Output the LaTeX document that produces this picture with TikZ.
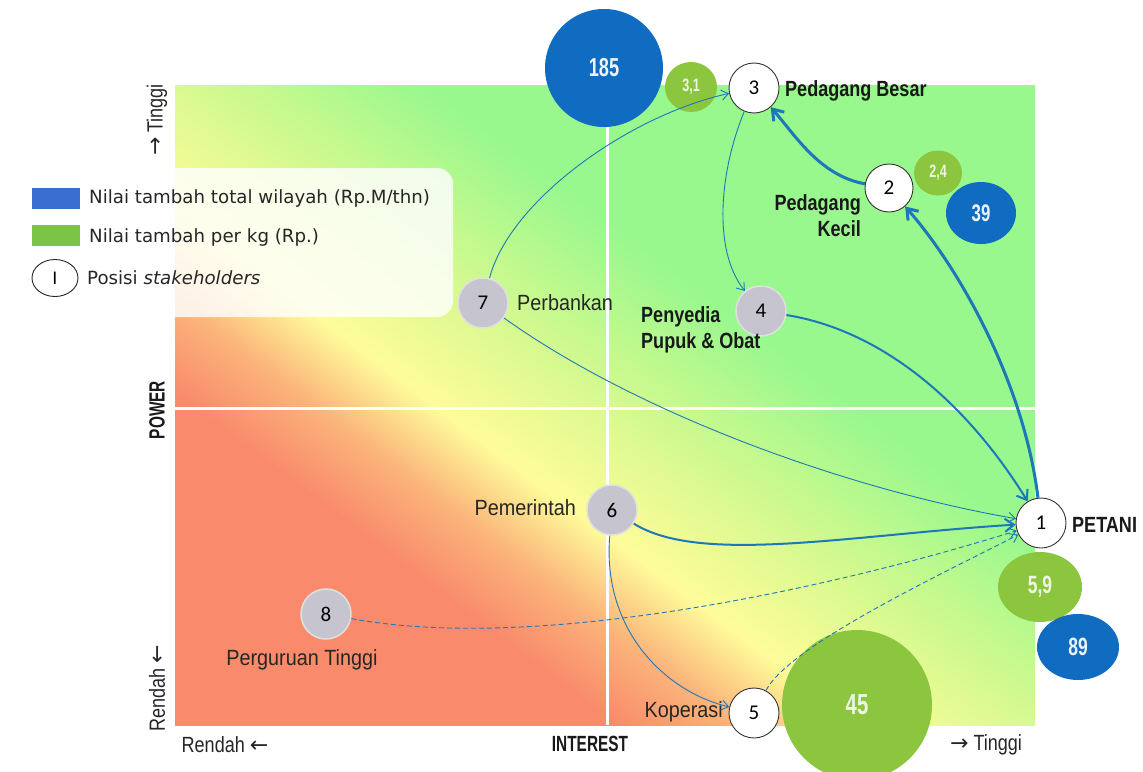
\documentclass[tikz,border=0pt]{standalone}
\usepackage{fontspec}
\setmainfont{DejaVu Sans}
\newfontfamily\narrowf[FakeStretch=0.82]{Liberation Sans}
\newfontfamily\condf[FakeStretch=0.7]{Liberation Sans}
\newfontfamily\labf[FakeStretch=0.9]{Liberation Sans}
\newfontfamily\arrowf{DejaVu Sans}
\newfontfamily\calf{Carlito}
\usetikzlibrary{arrows.meta,shapes.geometric}
\definecolor{cblue}{HTML}{0F6CC0}
\definecolor{cgreen}{HTML}{8CC63F}
\definecolor{cgray}{HTML}{C6C4CE}
\definecolor{carrow}{HTML}{1E77B8}
\definecolor{gred}{HTML}{F98A6C}
\definecolor{gorange}{HTML}{FBB47A}
\definecolor{gyellow}{HTML}{FEFC9A}
\definecolor{gyg}{HTML}{E4FA92}
\definecolor{glgreen}{HTML}{C6F98E}
\definecolor{ggreen}{HTML}{98F88E}
\definecolor{lblue}{HTML}{3B6FCF}
\definecolor{lgreen}{HTML}{7CC447}
\pgfdeclarehorizontalshading{quadshade}{100bp}{color(0bp)=(gred); color(33bp)=(gred); color(38bp)=(gorange); color(43bp)=(gyellow); color(48bp)=(gyg); color(53bp)=(glgreen); color(60bp)=(ggreen); color(100bp)=(ggreen)}
\tikzset{
  valblue/.style={ellipse, fill=cblue, inner sep=0pt, text=white!92!cblue, font=\condf\bfseries\fontsize{26}{26}\selectfont},
  valgreen/.style={ellipse, fill=cgreen, inner sep=0pt, text=white!85!cgreen, font=\condf\bfseries\fontsize{25}{25}\selectfont},
  stk/.style={circle, draw=black!80, line width=0.9pt, fill=white, minimum size=50pt, inner sep=0pt, font=\calf\fontsize{21}{21}\selectfont},
  gst/.style={circle, draw=black!12, line width=1.5pt, fill=cgray, minimum size=50pt, inner sep=0pt, font=\calf\fontsize{21}{21}\selectfont},
  lab/.style={font=\labf\fontsize{22}{22}\selectfont, text=black!85, inner sep=0pt},
  blab/.style={font=\narrowf\bfseries\fontsize{22}{22}\selectfont, text=black!90, inner sep=0pt},
  axl/.style={font=\narrowf\fontsize{22}{22}\selectfont, text=black!85, inner sep=0pt},
  axt/.style={font=\condf\bfseries\fontsize{22}{22}\selectfont, text=black!90, inner sep=0pt},
  leg/.style={font=\fontsize{18.2}{19}\selectfont, text=black!85, inner sep=0pt, anchor=west},
  con/.style={draw=carrow, line width=0.9pt, -{Straight Barb[length=7pt,width=10pt]}},
  conm/.style={draw=carrow, line width=2pt, -{Straight Barb[length=9pt,width=13pt]}},
  conb/.style={draw=carrow, line width=3pt, -{Straight Barb[length=10pt,width=14pt]}},
  cond/.style={con, dashed, dash pattern=on 5pt off 3pt},
}
\begin{document}
\begin{tikzpicture}[x=1pt,y=-1pt]
\path[use as bounding box] (0,0) rectangle (1143,771);
% background gradient
\shade[shading=quadshade, shading angle=53] (175,85) rectangle (1035,725);
\draw[white, line width=3pt] (607,85) -- (607,725);
\draw[white, line width=3pt] (175,408) -- (1035,408);
% legend
\fill[white, opacity=0.82, rounded corners=16pt] (8,168) rectangle (453,317);
\fill[lblue] (32,188) rectangle (80,209);
\fill[lgreen] (32,225) rectangle (80,246);
\node[leg] (lt1) at (89,198) {Nilai tambah total wilayah (Rp.M/thn)};
\node[leg] (lt2) at (89,237) {Nilai tambah per kg (Rp.)};
\node[ellipse, draw=black!85, line width=0.9pt, minimum width=46pt, minimum height=37pt, inner sep=0pt, font=\fontsize{17}{17}\selectfont] (lc) at (55,278) {I};
\node[leg] (lt3) at (87,278) {Posisi \textit{stakeholders}};
% axis labels
\node[axt, rotate=90] (power) at (157,410) {POWER};
\node[axl, rotate=90] (ptop) at (157,120) {{\arrowf →} Tinggi};
\node[axl, rotate=90] (pbot) at (157,688) {Rendah {\arrowf ←}};
\node[axt] (interest) at (590,744) {INTEREST};
\node[axl] (ileft) at (225,745) {Rendah {\arrowf ←}};
\node[axl] (iright) at (986,745) {{\arrowf →} Tinggi};
% value bubbles
\node[valblue, minimum width=118pt, minimum height=118pt] (v185) at (604,68) {185};
\node[valgreen, minimum width=52pt, minimum height=50pt, font=\condf\bfseries\fontsize{18}{18}\selectfont] (v31) at (691,87) {3,1};
\node[valgreen, minimum width=48pt, minimum height=45pt, font=\condf\bfseries\fontsize{18}{18}\selectfont] (v24) at (938,173) {2,4};
\node[valblue, minimum width=70pt, minimum height=62pt, font=\condf\bfseries\fontsize{24}{24}\selectfont] (v39) at (981,213) {39};
\node[valgreen, minimum width=84pt, minimum height=70pt] (v59) at (1040,587) {5,9};
\node[valblue, minimum width=82pt, minimum height=66pt, font=\condf\bfseries\fontsize{25}{25}\selectfont] (v89) at (1078,647) {89};
\node[valgreen, minimum width=150pt, minimum height=150pt, font=\condf\bfseries\fontsize{29}{29}\selectfont] (v45) at (857,705) {45};
% stakeholders
\node[stk] (n3) at (754,88) {3};
\node[stk, minimum size=48pt] (n2) at (889,188) {2};
\node[stk] (n1) at (1041,523) {1};
\node[stk] (n5) at (754,713) {5};
\node[gst] (n4) at (761,311) {4};
\node[gst] (n7) at (483,303) {7};
\node[gst] (n6) at (612,510) {6};
\node[gst] (n8) at (326,614) {8};
% labels
\node[blab, anchor=west] (l3) at (785,91) {Pedagang Besar};
\node[blab, align=right, anchor=east] (l2) at (861,216) {Pedagang\\[4pt]Kecil};
\node[blab, anchor=west] (l1) at (1072,525) {PETANI};
\node[blab, align=left, anchor=west] (l4) at (641,330) {Penyedia\\[4pt]Pupuk \& Obat};
\node[lab, anchor=west] (l7) at (517,303) {Perbankan};
\node[lab, anchor=east] (l6) at (576,508) {Pemerintah};
\node[lab] (l8) at (302,660) {Perguruan Tinggi};
\node[lab, anchor=east] (l5) at (723,712) {Koperasi};
% connectors
\draw[con] (n7) .. controls (510,200) and (630,115) .. (n3);
\draw[con] (n3) .. controls (720,170) and (712,250) .. (n4);
\draw[conb] (n2) .. controls (820,176) and (795,135) .. (n3);
\draw[conb] (n1) .. controls (1025,390) and (965,275) .. (n2);
\draw[conm] (n4) .. controls (880,330) and (965,400) .. (n1);
\draw[con] (n7) .. controls (640,415) and (850,490) .. (n1);
\draw[conm] (n6) .. controls (700,565) and (850,535) .. (n1);
\draw[con] (n6) .. controls (602,625) and (660,690) .. (n5);
\draw[cond] (n8) .. controls (550,655) and (860,580) .. (n1);
\draw[cond] (n5) .. controls (790,645) and (940,575) .. (n1);
\end{tikzpicture}
\end{document}
